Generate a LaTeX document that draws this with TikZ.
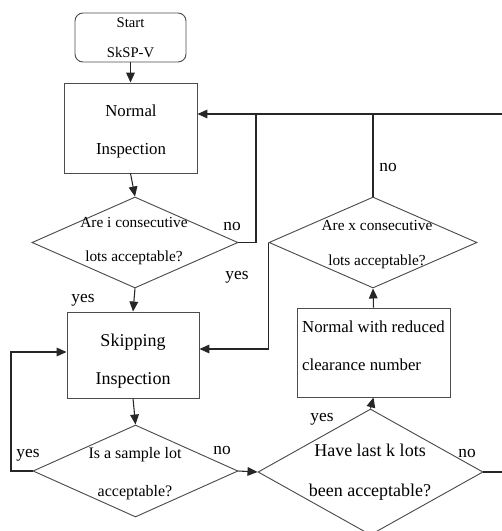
\documentclass[tikz,border=0pt]{standalone}
\usepackage{fontspec}
\setmainfont{Liberation Serif}
\usetikzlibrary{shapes.geometric,arrows.meta,calc}
\begin{document}
\begin{tikzpicture}[x=0.75pt,y=-0.75pt,
  box/.style={draw=black!70, line width=0.7pt, rectangle, inner sep=0},
  dia/.style={draw=black!70, line width=0.7pt, diamond, inner sep=0},
  txt/.style={align=center, inner sep=0},
  conn/.style={line width=0.8pt, black!85},
  arr/.style={conn, -{Triangle[length=7.5pt,width=6.5pt]}},
  lbl/.style={inner sep=0, font=\fontsize{13}{15}\selectfont}
]
\useasboundingbox (0,0) rectangle (502,531);
\clip (0,0) rectangle (502,531);

% shapes
\node[box, rounded corners=6pt, minimum width=83.25pt, minimum height=36.75pt] (start) at (130.5,37.5) {};
\node[txt, font=\fontsize{11}{22.5}\selectfont] (starttxt) at (130.5,38) {Start\\SkSP-V};

\node[box, minimum width=99.75pt, minimum height=67.5pt] (normal) at (130.5,128) {};
\node[txt, font=\fontsize{12.6}{28.5}\selectfont] (normaltxt) at (131,131) {Normal\\Inspection};

\node[dia, minimum width=154.5pt, minimum height=68.25pt] (d1) at (135,242.5) {};
\node[txt, font=\fontsize{11.5}{25.5}\selectfont] (d1txt) at (134,241) {Are i consecutive\\lots acceptable?};

\node[box, minimum width=99pt, minimum height=64.5pt] (skip) at (133,355) {};
\node[txt, font=\fontsize{13.5}{28.5}\selectfont] (skiptxt) at (133,361) {Skipping\\Inspection};

\node[dia, minimum width=153.75pt, minimum height=69pt] (d3) at (135.5,471) {};
\node[txt, font=\fontsize{12}{28.5}\selectfont] (d3txt) at (135,474) {Is a sample lot\\acceptable?};

\node[dia, minimum width=168.75pt, minimum height=94.5pt] (d4) at (370.5,472) {};
\node[txt, font=\fontsize{13.5}{30}\selectfont] (d4txt) at (370,472) {Have last k lots\\been acceptable?};

\node[box, minimum width=114.75pt, minimum height=66.75pt] (red) at (373.5,352.5) {};
\node[inner sep=0, align=left, font=\fontsize{12.6}{28.5}\selectfont] (redtxt) at (373.5,346) {Normal with reduced\\clearance number};

\node[dia, minimum width=156pt, minimum height=68.25pt] (d2) at (373,242.5) {};
\node[txt, font=\fontsize{11.5}{26.25}\selectfont] (d2txt) at (377,244.5) {Are x consecutive\\lots acceptable?};

% helper coordinates
\coordinate (topR) at (502,114);
\coordinate (fb1) at (256,114);
\coordinate (loopL) at (11,471);
\coordinate (d4out) at (502,472);

% connectors
\draw[arr] (start.south) -- (normal.north);
\draw[arr] (normal.south) -- (d1.north);
\draw[conn] (d1.east) -| (fb1);
\draw[arr] (topR) -- (normal.east |- topR);
\draw[conn] (d2.north) -- (d2.north |- topR);
\draw[arr] (d1.south) -- (skip.north);
\draw[arr] (d2.west) |- ($(skip.east)+(0,-6)$);
\draw[arr] (skip.south) -- (d3.north);
\draw[arr] (d3.west) -- (loopL) |- ($(skip.west)+(0,-3)$);
\draw[arr] (d3.east) -- (d4.west);
\draw[arr] (d4.north) -- (red.south);
\draw[arr] (red.north) -- (d2.south);
\draw[conn] (d4.east) -- (d4out);

% labels
\node[lbl] (l1) at (232,226) {no};
\node[lbl] (l2) at (237,277) {yes};
\node[lbl] (l3) at (83,300) {yes};
\node[lbl] (l4) at (388,168) {no};
\node[lbl] (l5) at (28,455) {yes};
\node[lbl] (l6) at (222,450) {no};
\node[lbl] (l7) at (322,419) {yes};
\node[lbl] (l8) at (467,453) {no};
\end{tikzpicture}
\end{document}
